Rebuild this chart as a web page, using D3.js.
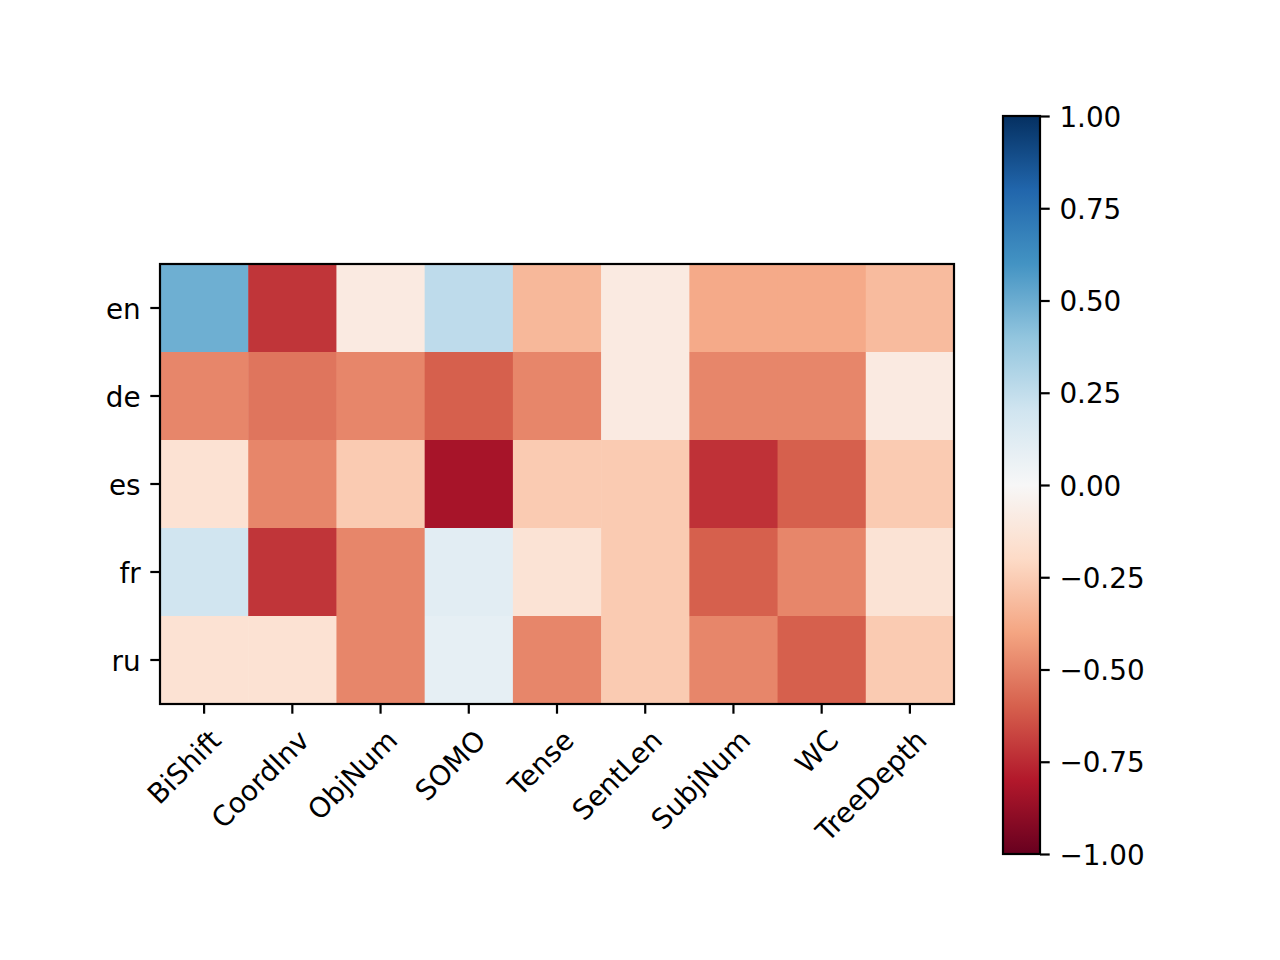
<!DOCTYPE html>
<html>
<head>
<meta charset="utf-8">
<script src="https://cdn.jsdelivr.net/npm/d3@7"></script>
<style>
  body { margin: 0; background: #fff; }
  text { font-family: "DejaVu Sans", sans-serif; fill: #000; }
</style>
</head>
<body>
<div id="chart"></div>
<script>
// languages on rows, probing tasks on columns
const languages = ["en", "de", "es", "fr", "ru"];
const tasks = ["BiShift", "CoordInv", "ObjNum", "SOMO", "Tense", "SentLen", "SubjNum", "WC", "TreeDepth"];

// one array per language
const en = [0.49, -0.72, -0.09, 0.26, -0.33, -0.09, -0.38, -0.38, -0.32];
const de = [-0.49, -0.54, -0.49, -0.6, -0.49, -0.09, -0.49, -0.49, -0.09];
const es = [-0.15, -0.49, -0.26, -0.83, -0.26, -0.26, -0.73, -0.6, -0.26];
const fr = [0.2, -0.72, -0.49, 0.11, -0.14, -0.26, -0.6, -0.49, -0.14];
const ru = [-0.15, -0.15, -0.49, 0.09, -0.49, -0.26, -0.49, -0.6, -0.26];
const rows = [en, de, es, fr, ru];

const cbarTicks = [-1, -0.75, -0.5, -0.25, 0, 0.25, 0.5, 0.75, 1];

// matplotlib RdBu stops
const rdbu = ["#67001f", "#b2182b", "#d6604d", "#f4a582", "#fddbc7", "#f7f7f7",
              "#d1e5f0", "#92c5de", "#4393c3", "#2166ac", "#053061"];

const width = 1280, height = 960;
const fs = 27.8;
const tick = 9.7;

const svg = d3.select("#chart")
  .append("svg")
  .attr("width", width)
  .attr("height", height);

const color = d3.scaleLinear()
  .domain(d3.range(11).map(i => -1 + i * 0.2))
  .range(rdbu)
  .interpolate(d3.interpolateRgb)
  .clamp(true);

const x = d3.scaleBand().domain(tasks).range([160, 954]);
const y = d3.scaleBand().domain(languages).range([264, 704]);

// cells
const cells = [];
rows.forEach((r, i) => r.forEach((v, j) => cells.push({lang: languages[i], task: tasks[j], v: v})));

svg.append("g")
  .selectAll("rect")
  .data(cells)
  .enter()
  .append("rect")
    .attr("x", d => x(d.task))
    .attr("y", d => y(d.lang))
    .attr("width", x.bandwidth() + 0.5)
    .attr("height", y.bandwidth() + 0.5)
    .attr("fill", d => color(d.v));

// frame
svg.append("rect")
  .attr("x", 160).attr("y", 264)
  .attr("width", 794).attr("height", 440)
  .attr("fill", "none")
  .attr("stroke", "#000")
  .attr("stroke-width", 2.2);

// y axis
const yAxis = svg.append("g")
  .attr("transform", "translate(160,0)")
  .call(d3.axisLeft(y).tickSize(tick).tickPadding(9.7));
yAxis.select(".domain").remove();
yAxis.selectAll(".tick line").attr("stroke-width", 2.2);
yAxis.selectAll("text")
  .attr("font-size", fs)
  .attr("dy", "0.38em")
  .attr("font-family", "DejaVu Sans");

// x axis, labels rotated about their right end
const xAxis = svg.append("g")
  .attr("transform", "translate(0,704)")
  .call(d3.axisBottom(x).tickSize(tick).tickFormat(""));
xAxis.select(".domain").remove();
xAxis.selectAll(".tick line").attr("stroke-width", 2.2);

svg.append("g")
  .selectAll("text")
  .data(tasks)
  .enter()
  .append("text")
    .attr("transform", d => `translate(${x(d) + x.bandwidth() / 2},${704 + tick + 9.7}) rotate(-45)`)
    .attr("text-anchor", "end")
    .attr("dy", "0.95em")
    .attr("font-size", fs)
    .text(d => d);

// colorbar
const cb = {x: 1003, w: 37, top: 116, bottom: 854};
const cScale = d3.scaleLinear().domain([-1, 1]).range([cb.bottom, cb.top]);

const grad = svg.append("defs").append("linearGradient")
  .attr("id", "cbgrad")
  .attr("x1", 0).attr("y1", 1).attr("x2", 0).attr("y2", 0);
grad.selectAll("stop")
  .data(rdbu)
  .enter()
  .append("stop")
    .attr("offset", (d, i) => i / 10)
    .attr("stop-color", d => d);

svg.append("rect")
  .attr("x", cb.x).attr("y", cb.top)
  .attr("width", cb.w).attr("height", cb.bottom - cb.top)
  .attr("fill", "url(#cbgrad)")
  .attr("stroke", "#000")
  .attr("stroke-width", 2.2);

const cAxis = svg.append("g")
  .attr("transform", `translate(${cb.x + cb.w},0)`)
  .call(d3.axisRight(cScale)
    .tickValues(cbarTicks)
    .tickSize(tick)
    .tickPadding(9.7)
    .tickFormat(d => d3.format(".2f")(d).replace("-", "\u2212")));
cAxis.select(".domain").remove();
cAxis.selectAll(".tick line").attr("stroke-width", 2.2);
cAxis.selectAll("text")
  .attr("font-size", fs)
  .attr("dy", "0.36em")
  .attr("font-family", "DejaVu Sans");
</script>
</body>
</html>
